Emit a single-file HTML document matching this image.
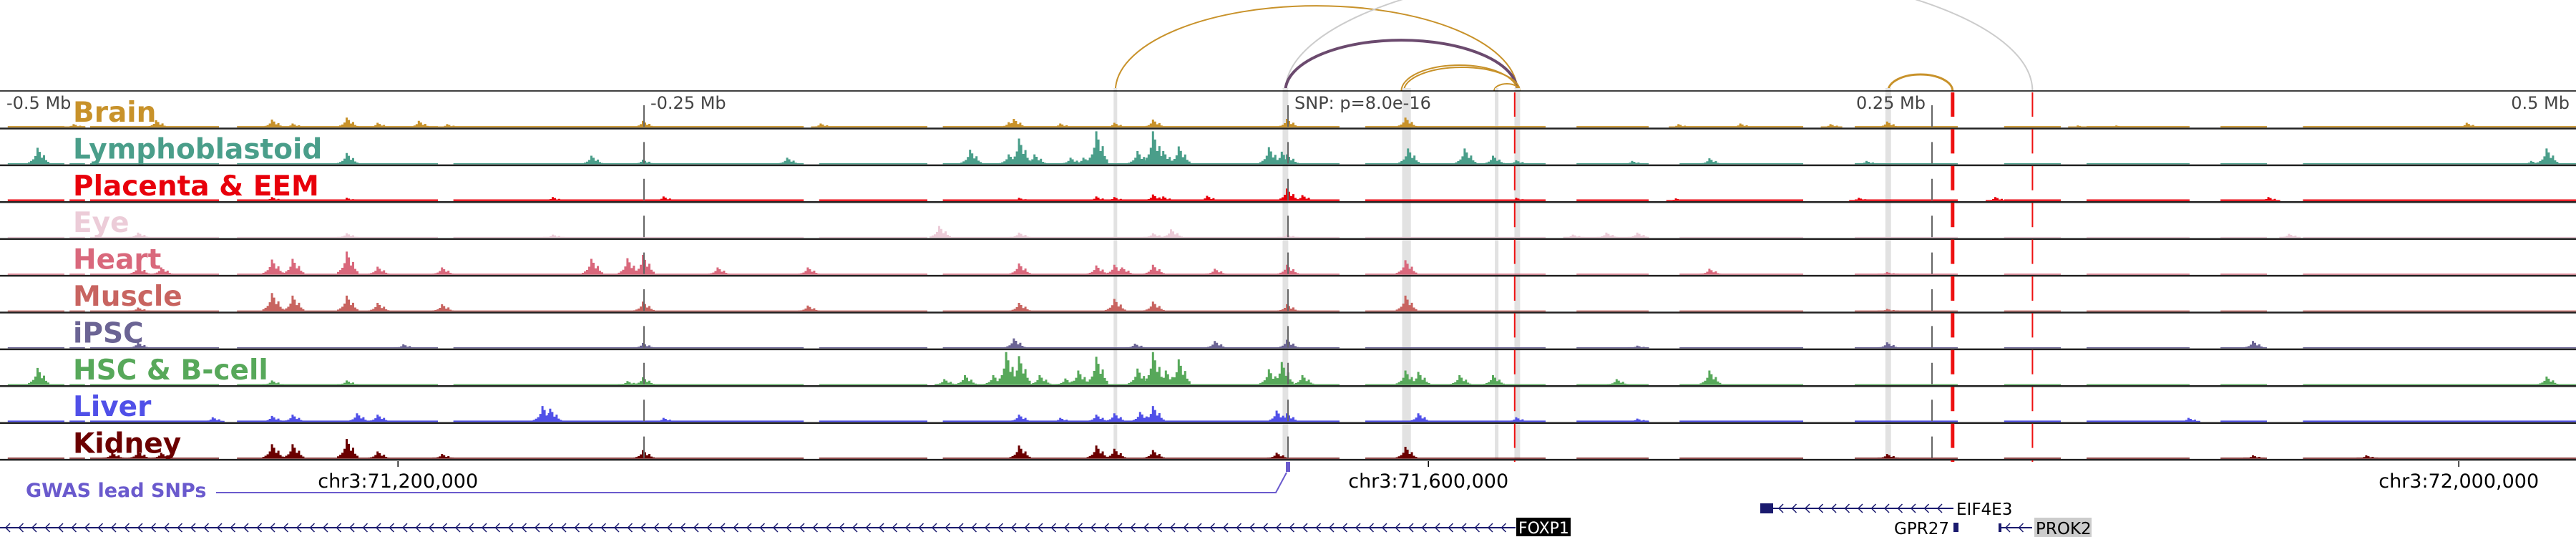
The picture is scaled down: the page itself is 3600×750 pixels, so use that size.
<!DOCTYPE html>
<html><head><meta charset="utf-8">
<style>
html,body{margin:0;padding:0;background:#fff;}
svg{display:block;}
text{font-family:"DejaVu Sans","Liberation Sans",sans-serif;}
</style></head>
<body>
<svg id="chart" xmlns="http://www.w3.org/2000/svg" width="3600" height="750" viewBox="0 0 3600 750"></svg>
<script>
// ---- data (positions in kb from window start; window = 1000 kb; signals 0..100) ----
const windowKb = 1000;
const trackNames = ["Brain","Lymphoblastoid","Placenta & EEM","Eye","Heart","Muscle","iPSC","HSC & B-cell","Liver","Kidney"];
const trackColors = ["#c8922a","#4a9e8a","#e8000b","#ecccd8","#d9687c","#c86460","#6b6494","#57a85a","#5050e8","#6b0000"];
const coverage = [[3,25],[27,33],[35,85],[92,170],[176,250],[250,312],[318,360],[366,520],[530,600],[612,640],[652,700],[720,760],[778,800],[810,850],[862,880],[894,1000]];
const brainPeaks = [[61,22],[29,10],[106,24],[114,12],[135,30],[147,14],[163,20],[174,10],[250,20],[319,12],[392,16],[394,26],[412,12],[433,14],[448,24],[500,26],[546,30],[652,10],[676,12],[711,10],[733,18],[807,6],[822,6],[958,14]];
const lymphPeaks = [[15,50],[135,34],[230,26],[250,14],[306,20],[377,44],[396,78],[402,30],[421,20],[426,100],[448,100],[458,54],[493,52],[498,38],[500,30],[547,48],[569,48],[580,26],[589,12],[634,10],[664,18],[725,10],[983,10],[989,48],[392,30],[442,40],[452,40],[416,20]];
const placentaPeaks = [[106,12],[135,10],[258,14],[215,12],[396,10],[426,14],[433,12],[448,20],[452,14],[469,16],[500,38],[506,18],[589,10],[651,8],[722,10],[775,12],[881,12]];
const eyePeaks = [[54,16],[135,14],[215,10],[365,36],[396,16],[455,26],[448,14],[611,10],[624,16],[636,16],[889,12],[500,10]];
const heartPeaks = [[54,26],[63,22],[106,46],[114,48],[135,70],[147,24],[172,22],[230,48],[244,50],[250,60],[279,22],[314,22],[396,34],[426,28],[433,30],[436,22],[448,30],[472,18],[500,30],[546,44],[664,18],[733,8]];
const musclePeaks = [[54,12],[106,56],[114,48],[135,48],[147,26],[172,22],[250,30],[314,18],[396,26],[433,38],[448,30],[546,48],[500,22],[733,8]];
const ipscPeaks = [[54,18],[157,12],[250,16],[394,30],[441,14],[472,22],[500,26],[733,18],[875,22],[636,8]];
const hscPeaks = [[15,52],[106,14],[135,14],[250,24],[367,18],[375,30],[391,100],[396,88],[404,30],[419,44],[426,86],[448,100],[458,78],[493,48],[498,70],[506,30],[546,44],[551,40],[567,30],[580,30],[664,44],[628,18],[989,26],[244,12],[442,50],[453,44],[386,30],[414,20]];
const liverPeaks = [[83,14],[106,18],[114,22],[139,26],[147,22],[211,48],[214,40],[258,12],[396,22],[426,22],[433,26],[448,48],[496,34],[500,26],[551,26],[589,14],[636,10],[850,12],[443,30],[412,12]];
const kidneyPeaks = [[44,18],[54,22],[63,18],[106,44],[114,44],[135,60],[147,22],[172,14],[250,26],[396,40],[426,40],[433,30],[448,26],[496,18],[546,36],[733,14],[875,10],[919,10]];
const allPeaks = [brainPeaks,lymphPeaks,placentaPeaks,eyePeaks,heartPeaks,musclePeaks,ipscPeaks,hscPeaks,liverPeaks,kidneyPeaks];
const baseLevels = [4,3,5,3,3,3,3,3,4,3];
const highlightKb = [[433,1.4],[499,2.2],[546,3.4],[581,1.4],[589,2.2],[733,2.2]];
const greyDashKb = [250,500,750];
const redDashKb = [[588,2],[758,5],[789,2]];
const arcStart = [433,499,499,544,545,580,733];
const arcEnd   = [589,789,589,589,590,590,758];
const arcHeight= [119,176,71,36,33,10,23];
const arcColor = ["#c8922a","#cccccc","#6b4a6e","#c8922a","#c8922a","#c8922a","#c8922a"];
const arcWidth = [2,2,4,2,2,2,3];
const topTickLabels = ["-0.5 Mb","-0.25 Mb","SNP: p=8.0e-16","0.25 Mb","0.5 Mb"];
const topTickKb = [0,250,500,750,1000];
const axisLabels = ["chr3:71,200,000","chr3:71,600,000","chr3:72,000,000"];
const axisKb = [154.5,554.5,954.5];
const snpKb = [500];

// ---- layout ----
const W=3600, topY=127, trackH=51.4, firstBase=178, maxH=46;
const peakShape = [[-15,0.12],[-12,0.2],[-9,0.3],[-6,0.5],[-3,1],[0,0.75],[3,0.4],[6,0.55],[9,0.25],[12,0.15]];
const svg=document.getElementById('chart');
const NS='http://www.w3.org/2000/svg';
function x(kb){return kb/windowKb*W;}
function mk(tag,attrs,parent){const e=document.createElementNS(NS,tag);for(const k in attrs)e.setAttribute(k,attrs[k]);(parent||svg).appendChild(e);return e;}

// arcs
const arcG=mk('g',{});


for(let i=0;i<arcStart.length;i++){
  const x1=x(arcStart[i]),x2=x(arcEnd[i]),rx=(x2-x1)/2;
  const p=mk('path',{d:`M${x1},${topY} A${rx},${arcHeight[i]} 0 0 1 ${x2},${topY}`,fill:'none',stroke:arcColor[i],'stroke-width':arcWidth[i]},arcG);
  
  
}
// highlight columns
for(const h of highlightKb){
  const r=mk('rect',{x:x(h[0])-h[1]*3.6/2,y:topY-4,width:h[1]*3.6,height:643-topY+4,fill:'#e2e2e2'});
  
  
}
mk('line',{x1:0,y1:topY,x2:W,y2:topY,stroke:'#000','stroke-width':1.5});
// tracks
for(let ti=0;ti<trackNames.length;ti++){
  const base=firstBase+ti*trackH;
  const g=mk('g',{});
  
  
  const col=trackColors[ti];
  let d='';
  for(const s of coverage){d+=`M${x(s[0])},${base}h${x(s[1])-x(s[0])}v${-baseLevels[ti]*maxH/100}h${-(x(s[1])-x(s[0]))}z`;}
  for(const p of allPeaks[ti]){
    const cx=x(p[0]),h=p[1]/100*maxH;
    for(const s of peakShape){d+=`M${cx+s[0]},${base}h3v${-Math.max(1.5,h*s[1])}h-3z`;}
  }
  const sig=mk('path',{d:d,fill:col},g);
  
  
  mk('line',{x1:0,y1:base+1.5,x2:W,y2:base+1.5,stroke:'#222','stroke-width':2.5},g);
  const lb=mk('text',{x:102,y:base-8,fill:col,'font-size':39,'font-weight':'bold'},g);
  lb.textContent=trackNames[ti];
  
  
}
for(const k of greyDashKb){
  const l=mk('line',{x1:x(k),y1:topY,x2:x(k),y2:645,stroke:'#666','stroke-width':2,'stroke-dasharray':'30 21.4','stroke-dashoffset':-20});
  
  
}
for(const r of redDashKb){
  const l=mk('line',{x1:x(r[0]),y1:topY,x2:x(r[0]),y2:645,stroke:'#ee1111','stroke-width':r[1],'stroke-dasharray':'34 17.4','stroke-dashoffset':-2});
  
  
}
for(let i=0;i<topTickLabels.length;i++){
  const xx=x(topTickKb[i]);
  const anchor=i<=2?'start':'end';
  const tx=mk('text',{x:anchor==='start'?xx+9:xx-9,y:152,fill:'#444','font-size':24,'text-anchor':anchor});
  tx.textContent=topTickLabels[i];
  
  
}
for(let i=0;i<axisLabels.length;i++){
  const xx=x(axisKb[i]);
  mk('line',{x1:xx,y1:644,x2:xx,y2:652,stroke:'#000','stroke-width':1.5});
  const tx=mk('text',{x:xx,y:681,fill:'#000','font-size':27,'text-anchor':'middle'});
  tx.textContent=axisLabels[i];
  
  
}
const gw=mk('text',{x:36,y:694,fill:'#6a5acd','font-size':27,'font-weight':'bold'});
gw.textContent='GWAS lead SNPs';


for(const s of snpKb){
  const sx=x(s);
  const pl=mk('polyline',{points:`302,688 ${sx-17},688 ${sx-2},660`,fill:'none',stroke:'#6a5acd','stroke-width':2});
  
  
  const m=mk('rect',{x:sx-3,y:645,width:6,height:14,fill:'#6a5acd'});
  
  
}
function gene(x1,x2,y,name){
  const g=mk('g',{});
  
  
  mk('line',{x1:x1,y1:y,x2:x2,y2:y,stroke:'#1a1a6e','stroke-width':2},g);
  let d='';
  for(let xx=x1+8;xx<x2-6;xx+=18.5){d+=`M${xx+6},${y-6}L${xx},${y}L${xx+6},${y+6}`;}
  mk('path',{d:d,fill:'none',stroke:'#1a1a6e','stroke-width':1.5},g);
  return g;
}
gene(0,2118,737,'FOXP1');
mk('rect',{x:2119,y:723,width:76,height:26,fill:'#000'});
let tt=mk('text',{x:2122,y:745,fill:'#fff','font-size':22});tt.textContent='FOXP1';

const eg=gene(2478,2730,710,'EIF4E3');
mk('rect',{x:2460,y:703,width:18,height:14,fill:'#1a1a6e'},eg);
tt=mk('text',{x:2734,y:719,fill:'#000','font-size':23});tt.textContent='EIF4E3';

tt=mk('text',{x:2724,y:746,fill:'#000','font-size':23,'text-anchor':'end'});tt.textContent='GPR27';

mk('rect',{x:2730,y:730,width:7,height:13,fill:'#1a1a6e'});
gene(2795,2840,737,'PROK2');
mk('rect',{x:2793,y:731,width:4,height:12,fill:'#1a1a6e'});
mk('rect',{x:2843,y:723,width:80,height:27,fill:'#cccccc'});
tt=mk('text',{x:2845,y:746,fill:'#000','font-size':23});tt.textContent='PROK2';

</script>
</body></html>
